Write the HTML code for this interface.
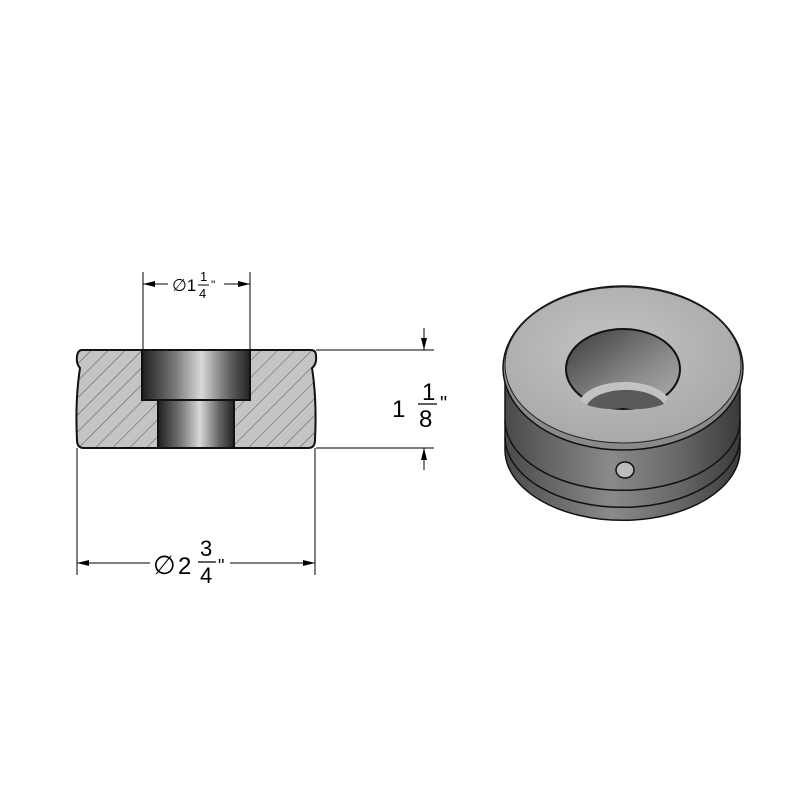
<!DOCTYPE html>
<html><head><style>html,body{margin:0;padding:0;background:#fff}svg{display:block}</style></head>
<body>
<svg width="800" height="800" viewBox="0 0 800 800" xmlns="http://www.w3.org/2000/svg" font-family="Liberation Sans, DejaVu Sans, sans-serif">
<defs>
<pattern id="hatch" width="12" height="12" patternUnits="userSpaceOnUse" patternTransform="rotate(45)">
<rect width="12" height="12" fill="#c4c4c4"/><line x1="0" y1="0" x2="0" y2="12" stroke="#555" stroke-width="1"/>
</pattern>
<linearGradient id="bore" x1="0" x2="1" y1="0" y2="0">
<stop offset="0" stop-color="#1e1e1e"/><stop offset="0.3" stop-color="#777"/><stop offset="0.55" stop-color="#d8d8d8"/><stop offset="0.8" stop-color="#666"/><stop offset="1" stop-color="#222"/>
</linearGradient>
<linearGradient id="body" x1="0" x2="1" y1="0" y2="0">
<stop offset="0" stop-color="#4a4a4a"/><stop offset="0.45" stop-color="#8a8a8a"/><stop offset="0.75" stop-color="#666"/><stop offset="1" stop-color="#3a3a3a"/>
</linearGradient>
<radialGradient id="top" cx="0.45" cy="0.4" r="0.7">
<stop offset="0" stop-color="#c4c4c4"/><stop offset="1" stop-color="#a4a4a4"/>
</radialGradient>
<linearGradient id="hole" x1="0" x2="1" y1="0" y2="1">
<stop offset="0" stop-color="#3a3a3a"/><stop offset="0.6" stop-color="#8a8a8a"/><stop offset="1" stop-color="#b0b0b0"/>
</linearGradient>
<marker id="ar" markerWidth="12" markerHeight="6" refX="12" refY="3" orient="auto" markerUnits="userSpaceOnUse"><path d="M0,0 L12,3 L0,6z" fill="#000"/></marker>
</defs>

<path d="M82,350 L142,350 L142,400 L158,400 L158,448 L84,448 Q77,448 77,440 Q75,400 80,368 Q76,364 77,356 Q78,350 82,350 Z" fill="url(#hatch)" stroke="#111" stroke-width="2"/>
<path d="M250,350 L311,350 Q316,350 316,356 Q317,364 312,368 Q317,400 315,440 Q315,448 308,448 L234,448 L234,400 L250,400 Z" fill="url(#hatch)" stroke="#111" stroke-width="2"/>
<rect x="142" y="350" width="108" height="50" fill="url(#bore)" stroke="#111" stroke-width="2"/>
<rect x="158" y="400" width="76" height="48" fill="url(#bore)" stroke="#111" stroke-width="2"/>

<g stroke="#000" stroke-width="1" fill="none">
<line x1="143" y1="272" x2="143" y2="350"/><line x1="250" y1="272" x2="250" y2="350"/>
<line x1="168" y1="284" x2="143" y2="284" marker-end="url(#ar)"/>
<line x1="224" y1="284" x2="250" y2="284" marker-end="url(#ar)"/>
<line x1="316" y1="350" x2="434" y2="350"/><line x1="316" y1="448" x2="434" y2="448"/>
<line x1="424" y1="328" x2="424" y2="350" marker-end="url(#ar)"/>
<line x1="424" y1="470" x2="424" y2="448" marker-end="url(#ar)"/>
<line x1="77" y1="448" x2="77" y2="575"/><line x1="315" y1="448" x2="315" y2="575"/>
<line x1="150" y1="563" x2="77" y2="563" marker-end="url(#ar)"/>
<line x1="230" y1="563" x2="315" y2="563" marker-end="url(#ar)"/>
</g>
<g fill="#000">
<text x="172" y="291" font-size="17">∅1</text>
<text x="200" y="281" font-size="13">1</text><line x1="198" y1="285" x2="209" y2="285" stroke="#000"/>
<text x="199" y="298" font-size="13">4</text>
<text x="211" y="289" font-size="12">"</text>
<text x="392" y="417" font-size="24">1</text>
<text x="422" y="400" font-size="24">1</text><line x1="418" y1="404" x2="437" y2="404" stroke="#000" stroke-width="1.2"/>
<text x="419" y="427" font-size="24">8</text>
<text x="440" y="410" font-size="20">"</text>
<text x="153" y="574" font-size="26">∅</text>
<text x="178" y="574" font-size="24">2</text>
<text x="200" y="556" font-size="22">3</text><line x1="198" y1="562" x2="216" y2="562" stroke="#000" stroke-width="1.2"/>
<text x="200" y="583" font-size="22">4</text>
<text x="218" y="572" font-size="18">"</text>
</g>

<path d="M505,375 L505,450 A117,70 0 0 0 740,450 L740,375 Z" fill="url(#body)" stroke="#111" stroke-width="1.5"/>
<path d="M505,420 A117,70 0 0 0 740,420" fill="none" stroke="#111" stroke-width="1.5"/>
<path d="M505,437 A117,70 0 0 0 740,437" fill="none" stroke="#111" stroke-width="1.5"/>
<ellipse cx="625" cy="470" rx="9" ry="8" fill="#bbb" stroke="#111" stroke-width="1.5"/>
<ellipse cx="623" cy="368" rx="120" ry="82" fill="#8a8a8a" stroke="#111" stroke-width="1.5"/>
<ellipse cx="623" cy="365" rx="118" ry="78" fill="url(#top)" stroke="#222" stroke-width="1"/>
<ellipse cx="623" cy="369" rx="57" ry="40" fill="url(#hole)" stroke="#111" stroke-width="2"/>
<path d="M580,400 A46,24 0 0 1 668,398 L664,404 A42,22 0 0 0 587,405 Z" fill="#c2c2c2"/>
<path d="M587,405 A40,20 0 0 1 664,404 A52,34 0 0 1 623,408 A52,34 0 0 1 587,405 Z" fill="#5a5a5a"/>
</svg>
</body></html>
